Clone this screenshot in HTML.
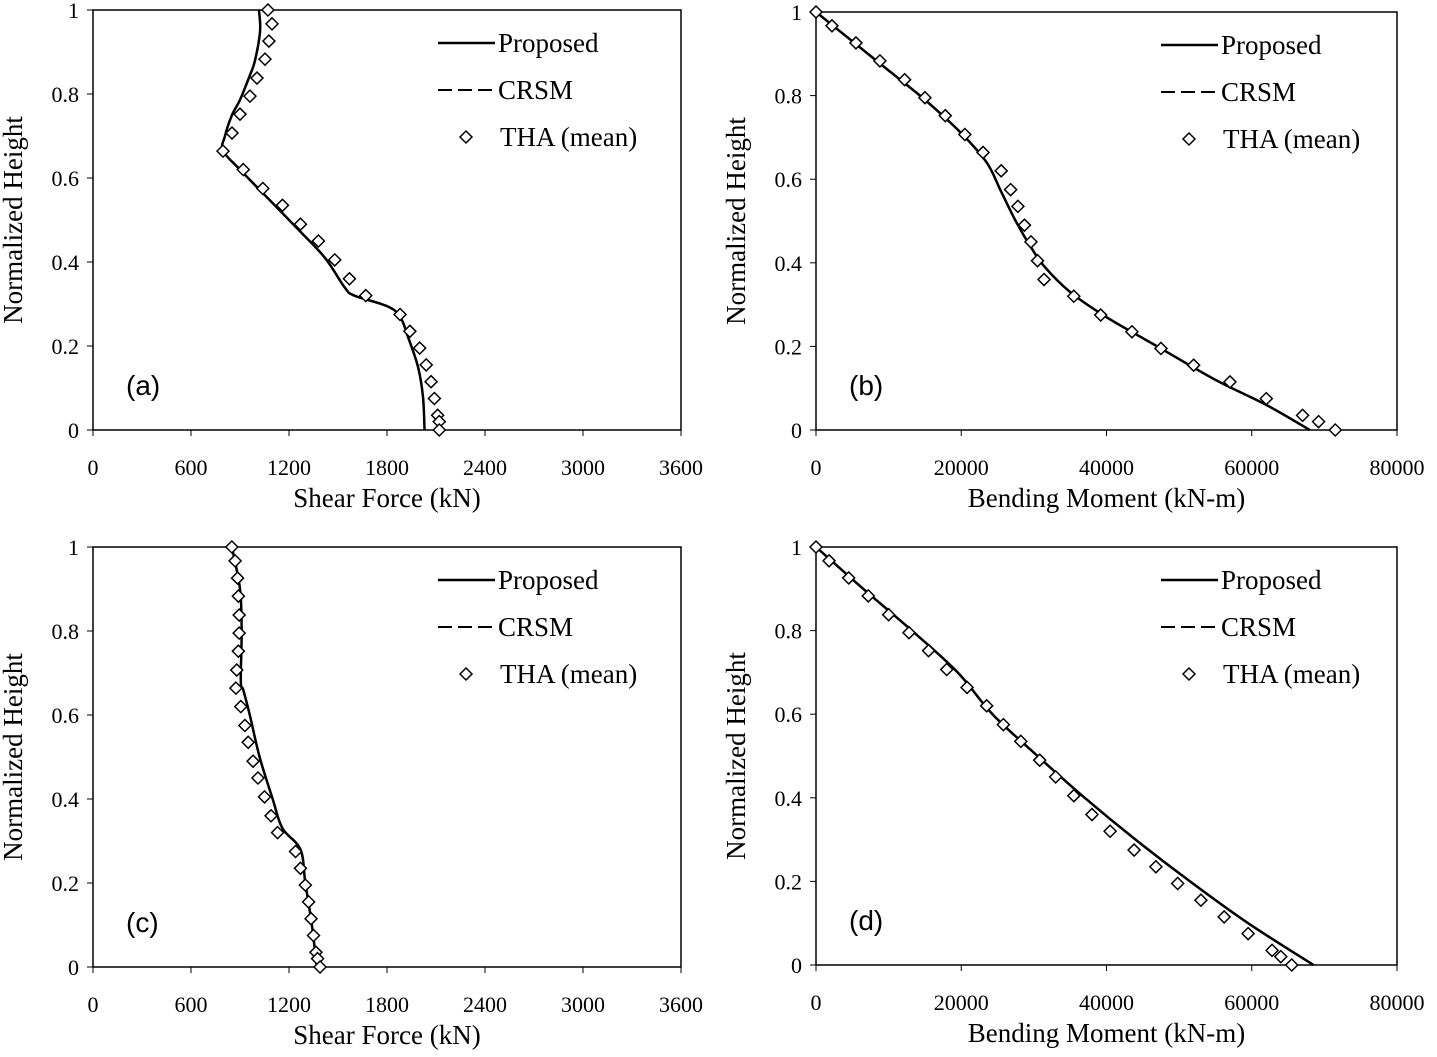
<!DOCTYPE html>
<html><head><meta charset="utf-8"><style>
body{margin:0;background:#fff}
svg{display:block}
.tick{font-family:"Liberation Serif",serif;font-size:22px}
.title{font-family:"Liberation Serif",serif;font-size:27px}
.leg{font-family:"Liberation Serif",serif;font-size:27px}
.lab{font-family:"Liberation Sans",sans-serif;font-size:28px}
</style></head><body>
<svg id="c" width="1437" height="1057" xmlns="http://www.w3.org/2000/svg"></svg>
<script>
const heightsTHA=[1,0.967,0.926,0.883,0.838,0.795,0.752,0.707,0.664,0.62,0.575,0.535,0.49,0.45,0.405,0.36,0.32,0.275,0.235,0.195,0.155,0.115,0.075,0.035,0.02,0];
const thaA=[1071,1096,1077,1053,1004,961,900,851,796,920,1040,1160,1270,1380,1480,1570,1670,1880,1940,2000,2040,2070,2090,2110,2120,2120];
const thaB=[0,2200,5500,8800,12200,15000,17800,20500,23000,25500,26800,27800,28700,29600,30500,31400,35500,39200,43500,47500,52000,57000,62000,67000,69200,71500];
const thaC=[850,870,885,890,895,895,890,880,875,905,930,950,980,1010,1050,1090,1130,1240,1270,1300,1320,1335,1350,1365,1375,1390];
const thaD=[0,1800,4500,7200,10000,12800,15500,18000,20800,23500,25800,28200,30800,33000,35500,38000,40500,43800,46800,49800,53000,56200,59500,62800,64000,65500];
const propAh=[1,0.95,0.88,0.845,0.786,0.75,0.70,0.665,0.62,0.56,0.48,0.41,0.34,0.32,0.295,0.27,0.22,0.15,0.08,0];
const propAx=[1016,1023,992,961,900,851,808,796,900,1050,1250,1420,1540,1600,1800,1880,1930,1990,2020,2030];
const propBh=[1,0.93,0.86,0.79,0.71,0.64,0.57,0.5,0.44,0.39,0.33,0.27,0.2,0.12,0.06,0];
const propBx=[0,5000,10000,15000,20000,23500,25500,27500,29500,31500,35000,40000,47000,55000,62000,68000];
const propCh=[1,0.9,0.8,0.68,0.66,0.6,0.5,0.4,0.33,0.28,0.2,0.1,0];
const propCx=[850,900,910,905,920,960,1020,1100,1160,1270,1300,1340,1370];
const propDh=[1,0.9,0.8,0.7,0.6,0.5,0.4,0.3,0.2,0.1,0];
const propDx=[0,6500,13200,19500,24300,30500,37000,44000,51500,59500,68500];
const yTicks=[0,0.2,0.4,0.6,0.8,1];
const xTicksShear=[0,600,1200,1800,2400,3000,3600];
const xTicksMom=[0,20000,40000,60000,80000];
const NS="http://www.w3.org/2000/svg";
const svg=document.getElementById('c');
function mk(t,a,p){const e=document.createElementNS(NS,t);for(const k in a)e.setAttribute(k,a[k]);(p||svg).appendChild(e);return e;}
function smooth(pts){let d='M'+pts[0][0]+','+pts[0][1];for(let i=0;i<pts.length-1;i++){const p0=pts[Math.max(0,i-1)],p1=pts[i],p2=pts[i+1],p3=pts[Math.min(pts.length-1,i+2)];
 const c1=[p1[0]+(p2[0]-p0[0])/6,p1[1]+(p2[1]-p0[1])/6],c2=[p2[0]-(p3[0]-p1[0])/6,p2[1]-(p3[1]-p1[1])/6];
 d+=` C${c1[0]},${c1[1]} ${c2[0]},${c2[1]} ${p2[0]},${p2[1]}`;}return d;}
function panel(id,x0,x1,y0,y1,xmax,xt,title,label,tha,px,ph,crsmOff){
 const g=mk('g',{});
 
 
 const X=v=>x0+(x1-x0)*v/xmax, Y=v=>y0+(y1-y0)*v;
 const fr=mk('rect',{x:x0,y:y1,width:x1-x0,height:y0-y1,fill:'none',stroke:'#000','stroke-width':1.5},g);
 
 yTicks.forEach(v=>{mk('line',{x1:x0-6,x2:x0,y1:Y(v),y2:Y(v),stroke:'#000'},g);
  const t=mk('text',{x:x0-14,y:Y(v)+8,'text-anchor':'end',class:'tick'},g);t.textContent=String(v);
  });
 xt.forEach(v=>{mk('line',{x1:X(v),x2:X(v),y1:y0,y2:y0+6,stroke:'#000'},g);
  const t=mk('text',{x:X(v),y:y0+45,'text-anchor':'middle',class:'tick'},g);t.textContent=String(v);
  });
 const yt=mk('text',{x:0,y:0,'text-anchor':'middle',class:'title',transform:`translate(${x0-71},${(y0+y1)/2}) rotate(-90)`},g);
 yt.textContent='Normalized Height';
 const xtl=mk('text',{x:(x0+x1)/2,y:y0+77,'text-anchor':'middle',class:'title'},g);
 xtl.textContent=title;
 const lb=mk('text',{x:x0+33,y:y0-35,class:'lab'},g);lb.textContent=label;
 
 const pts=px.map((v,i)=>[X(v),Y(ph[i])]);
 const l1=mk('path',{d:smooth(pts),fill:'none',stroke:'#000','stroke-width':2.5},g);
 
 const pts2=px.map((v,i)=>[X(v*crsmOff),Y(ph[i])]);
 const l2=mk('path',{d:smooth(pts2),fill:'none',stroke:'#000','stroke-width':2,'stroke-dasharray':'14 6'},g);
 
 tha.forEach((v,i)=>{const cx=X(v),cy=Y(heightsTHA[i]);
  const d=mk('polygon',{points:`${cx},${cy-6} ${cx+6},${cy} ${cx},${cy+6} ${cx-6},${cy}`,fill:'#fff',stroke:'#000','stroke-width':1.5},g);
  });
 const lx=x0+345, ly=y1;
 const legend=mk('g',{},g);
 mk('line',{x1:lx,x2:lx+57,y1:ly+33,y2:ly+33,stroke:'#000','stroke-width':2.5},legend);
 mk('line',{x1:lx,x2:lx+57,y1:ly+80,y2:ly+80,stroke:'#000','stroke-width':2,'stroke-dasharray':'14 6'},legend);
 const cx=lx+28,cy=ly+127;
 mk('polygon',{points:`${cx},${cy-6} ${cx+6},${cy} ${cx},${cy+6} ${cx-6},${cy}`,fill:'#fff',stroke:'#000','stroke-width':1.5},legend);
 [['Proposed',42],['CRSM',89],['THA (mean)',136]].forEach(([s,dy],k)=>{const t=mk('text',{x:lx+(k==2?62:60),y:ly+dy,class:'leg'},legend);t.textContent=s;
  });
}
panel('a',93,681,430,10,3600,xTicksShear,'Shear Force (kN)','(a)',thaA,propAx,propAh,1.0);
panel('b',816,1397,430,12,80000,xTicksMom,'Bending Moment (kN-m)','(b)',thaB,propBx,propBh,1.0);
panel('c',93,681,967,547,3600,xTicksShear,'Shear Force (kN)','(c)',thaC,propCx,propCh,1.0);
panel('d',816,1397,965,547,80000,xTicksMom,'Bending Moment (kN-m)','(d)',thaD,propDx,propDh,1.0);
</script>
</body></html>
